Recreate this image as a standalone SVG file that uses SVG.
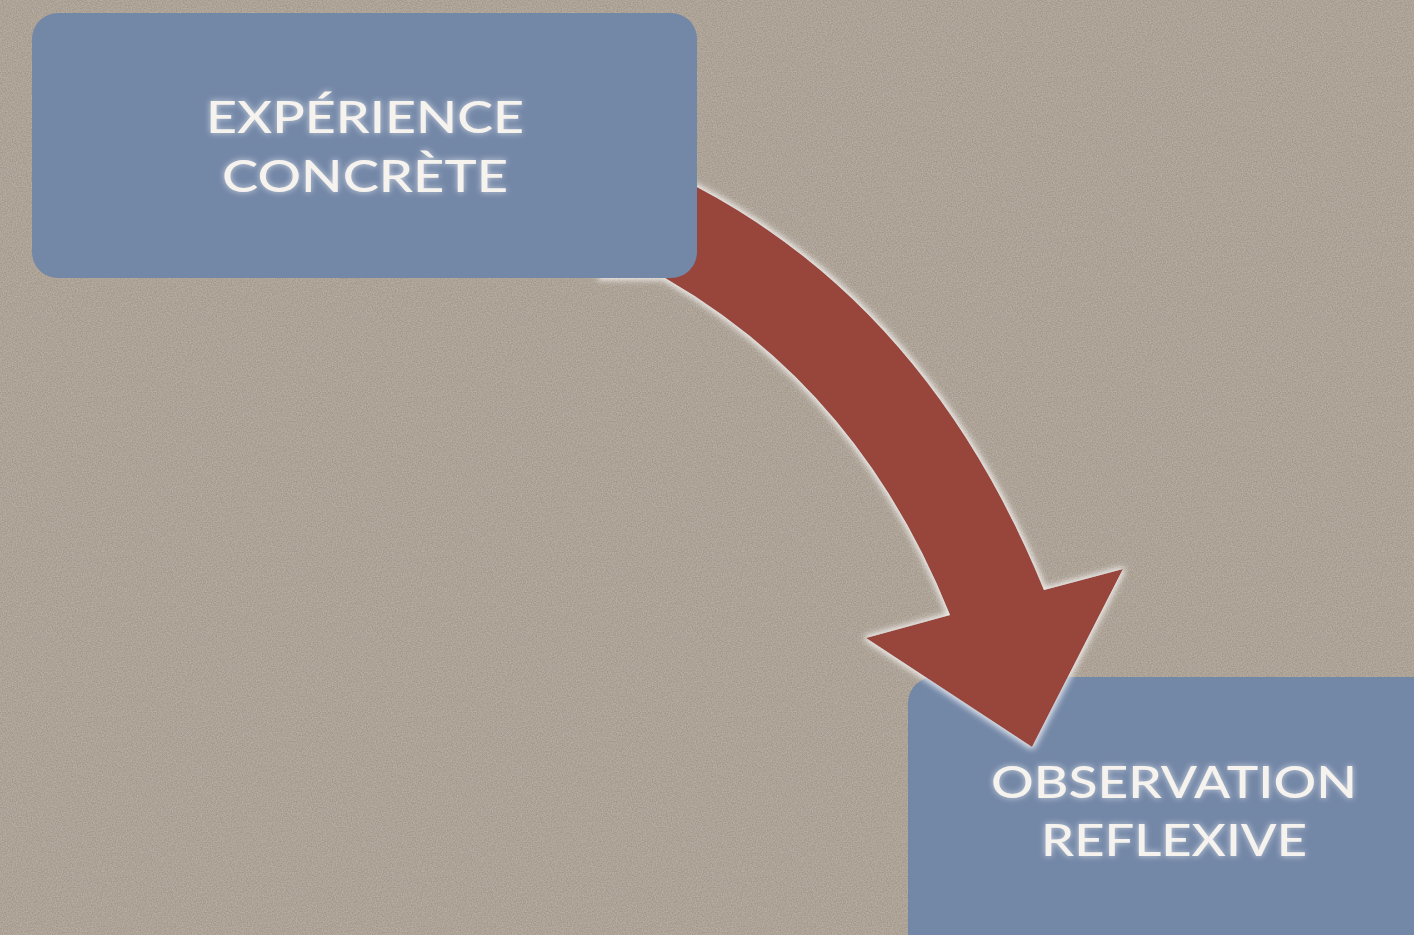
<svg xmlns="http://www.w3.org/2000/svg" width="1414" height="935" viewBox="0 0 1414 935">
  <defs>
    <filter id="tex" x="0" y="0" width="100%" height="100%">
      <feTurbulence type="fractalNoise" baseFrequency="0.8" numOctaves="2" seed="3" result="n"/>
      <feColorMatrix in="n" type="matrix" values="0 0 0 0 0.78  0 0 0 0 0.74  0 0 0 0 0.67  0 0 0 0.5 -0.12" result="c"/>
      <feComposite in="c" in2="SourceGraphic" operator="over"/>
    </filter>
    <filter id="glow" x="-20%" y="-20%" width="140%" height="140%">
      <feMorphology in="SourceAlpha" operator="dilate" radius="1.5" result="d"/>
      <feGaussianBlur in="d" stdDeviation="3" result="b"/>
      <feFlood flood-color="#ffffff" flood-opacity="0.8"/>
      <feComposite in2="b" operator="in" result="g"/>
      <feMerge><feMergeNode in="g"/><feMergeNode in="SourceGraphic"/></feMerge>
    </filter>
    <filter id="tglow" x="-10%" y="-30%" width="120%" height="160%">
      <feGaussianBlur in="SourceAlpha" stdDeviation="3" result="b"/>
      <feFlood flood-color="#ffffff" flood-opacity="0.65"/>
      <feComposite in2="b" operator="in" result="g"/>
      <feMerge><feMergeNode in="g"/><feMergeNode in="SourceGraphic"/></feMerge>
    </filter>
    <style>
      .box { fill: #7387a7; }
      .lbl { font-family: Lato, "Open Sans", "Liberation Sans", sans-serif; font-size: 45px; font-weight: 500; fill: #f6f3ef; text-anchor: middle; filter: url(#tglow); }
      .arrow { fill: #98443b; filter: url(#glow); }
    </style>
  </defs>
  <rect x="0" y="0" width="1414" height="935" fill="#a3978a" filter="url(#tex)"/>
  <g id="node-observation">
    <rect class="box" x="908" y="677" width="540" height="300" rx="26"/>
    <text class="lbl" x="1174" y="798" textLength="366" lengthAdjust="spacingAndGlyphs">OBSERVATION</text>
    <text class="lbl" x="1174" y="856" textLength="266" lengthAdjust="spacingAndGlyphs">REFLEXIVE</text>
  </g>
  <g id="connectors">
    <path class="arrow" d="M 600 150 L 697 187 Q 930 310 1044 590 L 1123 569 L 1032 747 L 866 638 L 950 615 Q 860 390 665 278 L 600 278 Z"/>
  </g>
  <g id="node-experience">
    <rect class="box" x="32" y="13" width="665" height="265" rx="26"/>
    <text class="lbl" x="365" y="133" textLength="318" lengthAdjust="spacingAndGlyphs">EXPÉRIENCE</text>
    <text class="lbl" x="365" y="192" textLength="286" lengthAdjust="spacingAndGlyphs">CONCRÈTE</text>
  </g>
</svg>
